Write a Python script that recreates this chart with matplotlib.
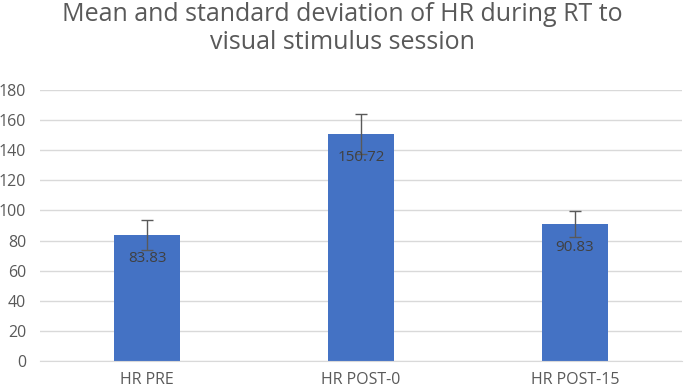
import numpy as np
import matplotlib.pyplot as plt

categories = ["HR PRE", "HR POST-0", "HR POST-15"]
means = [83.83, 150.72, 90.83]
sds = [9.8, 13.3, 8.8]
yticks = [0, 20, 40, 60, 80, 100, 120, 140, 160, 180]

plt.rcParams['font.family'] = ['Open Sans', 'DejaVu Sans']

fig = plt.figure(figsize=(6.85, 3.92), dpi=100)
ax = fig.add_axes([0.0584, 0.0791, 0.9372, 0.6913])

x = np.arange(len(categories))
ax.bar(x, means, width=0.31, color="#4472C4", zorder=2)
ax.errorbar(x, means, yerr=sds, fmt="none", ecolor="#595959",
            elinewidth=1, capsize=4, capthick=1, zorder=3)
for xi, m in zip(x, means):
    ax.annotate(f"{m:.2f}", (xi, m), xytext=(0, -17), textcoords="offset points",
                ha="center", va="center", fontsize=11, color="#404040", zorder=4)

ax.set_xlim(-0.5, 2.5)
ax.set_ylim(0, 180)
ax.set_yticks(yticks)
ax.set_xticks(x)
ax.set_xticklabels(categories)
ax.grid(axis="y", color="#d9d9d9", linewidth=1, zorder=0)
ax.set_axisbelow(True)
for s in ["top", "right", "left"]:
    ax.spines[s].set_visible(False)
ax.spines["bottom"].set_color("#d9d9d9")
ax.tick_params(axis="both", length=0, colors="#595959", labelsize=11.5)
ax.tick_params(axis="y", pad=10)
ax.tick_params(axis="x", pad=8)

fig.suptitle("Mean and standard deviation of HR during RT to\nvisual stimulus session",
             x=0.50, y=0.995, fontsize=18, color="#595959", linespacing=1.15)

fig.savefig("out.png", dpi=100)
